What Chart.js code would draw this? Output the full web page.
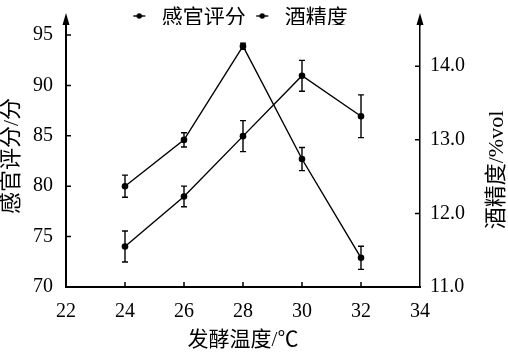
<!DOCTYPE html>
<html><head><meta charset="utf-8">
<script src="https://cdn.jsdelivr.net/npm/chart.js@4"></script>
<style>html,body{margin:0;padding:0;background:#fff}canvas{display:block}</style>
</head><body>
<canvas id="c" width="508" height="357"></canvas>
<script>
const temperatures = [24, 26, 28, 30, 32];
const sensoryScore = [80.0, 84.6, 93.9, 82.7, 72.9];
const sensoryError = [1.1, 0.7, 0.3, 1.15, 1.15];
const alcoholContent = [11.55, 12.23, 13.05, 13.87, 13.32];
const alcoholError = [0.21, 0.14, 0.21, 0.21, 0.29];
const xTicks = [22, 24, 26, 28, 30, 32, 34];
const leftTicks = [70, 75, 80, 85, 90, 95];
const rightTicks = [11, 12, 13, 14];
const seriesNames = ['感官评分', '酒精度'];
const xTitle = '发酵温度/℃';
const leftTitle = '感官评分/分';
const rightTitle = '酒精度/%vol';

const SERIF = '"Liberation Serif", "Noto Sans CJK SC"';
const CJK = '"Noto Sans CJK SC"';
Chart.defaults.color = '#000';

// legend marker: short line with a dot
const mk = document.createElement('canvas');
mk.width = 24; mk.height = 8;
(function(){
  const m = mk.getContext('2d');
  m.strokeStyle = '#000'; m.lineWidth = 1.4;
  m.beginPath(); m.moveTo(6, 4); m.lineTo(18, 4); m.stroke();
  m.beginPath(); m.arc(12, 4, 2.7, 0, Math.PI * 2); m.fillStyle = '#000'; m.fill();
})();

const errors = [sensoryError, alcoholError];

const customPlugin = {
  id: 'custom',
  beforeLayout(chart) {
    const lg = chart.legend;
    if (lg && !lg._patched) {
      const f = lg.fit;
      lg.fit = function () { f.call(this); this.height = 24; };
      lg._patched = true;
    }
  },
  afterDatasetsDraw(chart) {
    const ctx = chart.ctx;
    ctx.save();
    ctx.strokeStyle = '#000';
    ctx.lineWidth = 1.4;
    chart.data.datasets.forEach((ds, di) => {
      const ys = chart.scales[ds.yAxisID];
      const xs = chart.scales.x;
      ds.data.forEach((p, i) => {
        const e = errors[di][i];
        const x = xs.getPixelForValue(p.x);
        const y1 = ys.getPixelForValue(p.y + e);
        const y2 = ys.getPixelForValue(p.y - e);
        ctx.beginPath();
        ctx.moveTo(x, y1); ctx.lineTo(x, y2);
        ctx.moveTo(x - 3, y1); ctx.lineTo(x + 3, y1);
        ctx.moveTo(x - 3, y2); ctx.lineTo(x + 3, y2);
        ctx.stroke();
      });
    });
    ctx.restore();
  },
  afterDraw(chart) {
    const ctx = chart.ctx;
    const a = chart.chartArea;
    const sx = chart.scales.x, sy = chart.scales.y, sy1 = chart.scales.y1;
    ctx.save();
    ctx.strokeStyle = '#000';
    ctx.fillStyle = '#000';
    // inward tick marks
    ctx.lineWidth = 1.5;
    ctx.beginPath();
    leftTicks.forEach(v => { const y = sy.getPixelForValue(v); if (v !== 70) { ctx.moveTo(a.left, y); ctx.lineTo(a.left + 5, y); } });
    rightTicks.forEach(v => { const y = sy1.getPixelForValue(v); if (v !== 11) { ctx.moveTo(a.right, y); ctx.lineTo(a.right - 5, y); } });
    xTicks.forEach(v => { const x = sx.getPixelForValue(v); if (v !== 22 && v !== 34) { ctx.moveTo(x, a.bottom); ctx.lineTo(x, a.bottom - 5); } });
    ctx.stroke();
    // axis arrows
    [[a.left, 2], [a.right, 1.5]].forEach(([x, w]) => {
      ctx.lineWidth = w;
      ctx.beginPath(); ctx.moveTo(x, a.top + 1); ctx.lineTo(x, a.top - 4); ctx.stroke();
      ctx.beginPath();
      ctx.moveTo(x, a.top - 12);
      ctx.lineTo(x - 3.5, a.top);
      ctx.lineTo(x + 3.5, a.top);
      ctx.closePath(); ctx.fill();
    });
    // right axis title (reads bottom to top)
    ctx.translate(497, 170);
    ctx.rotate(-Math.PI / 2);
    ctx.font = '22px ' + SERIF;
    ctx.textAlign = 'center';
    ctx.textBaseline = 'middle';
    ctx.fillText(rightTitle, 0, 0);
    ctx.restore();
  }
};

new Chart(document.getElementById('c'), {
  type: 'line',
  data: {
    datasets: [
      {
        label: seriesNames[0],
        data: temperatures.map((t, i) => ({ x: t, y: sensoryScore[i] })),
        yAxisID: 'y'
      },
      {
        label: seriesNames[1],
        data: temperatures.map((t, i) => ({ x: t, y: alcoholContent[i] })),
        yAxisID: 'y1'
      }
    ].map(d => Object.assign(d, {
      borderColor: '#000', backgroundColor: '#000', borderWidth: 1.4,
      pointRadius: 3.3, pointHoverRadius: 3.3, pointBorderWidth: 0,
      tension: 0, fill: false
    }))
  },
  options: {
    responsive: false,
    animation: false,
    devicePixelRatio: 1,
    layout: { padding: { top: -2, right: 33, bottom: 0, left: 0 } },
    plugins: {
      legend: {
        display: true,
        position: 'top',
        labels: {
          usePointStyle: true,
          pointStyle: mk,
          pointStyleWidth: 24,
          padding: 4.5,
          color: '#000',
          font: { family: CJK, size: 21 }
        }
      },
      tooltip: { enabled: false }
    },
    scales: {
      x: {
        type: 'linear', min: 22, max: 34,
        afterBuildTicks: s => { s.ticks = xTicks.map(v => ({ value: v })); },
        ticks: { font: { family: SERIF, size: 20 }, color: '#000', padding: 13, maxRotation: 0 },
        grid: { display: false, drawTicks: false },
        border: { display: true, color: '#000', width: 2 },
        title: { display: true, text: xTitle, color: '#000', font: { family: SERIF, size: 21, lineHeight: 1 }, padding: { top: 0, bottom: 6.5 } },
        afterFit: s => { s.height = 70; }
      },
      y: {
        position: 'left', min: 70, max: 96,
        afterBuildTicks: s => { s.ticks = leftTicks.map(v => ({ value: v })); },
        ticks: { font: { family: SERIF, size: 20 }, color: '#000', padding: 13 },
        grid: { display: false, drawTicks: false },
        border: { display: true, color: '#000', width: 2 },
        title: { display: true, text: leftTitle, color: '#000', font: { family: SERIF, size: 22, lineHeight: 1 }, padding: { top: 1, bottom: 0 } },
        afterFit: s => { s.width = 66; }
      },
      y1: {
        position: 'right', min: 11, max: 14.56,
        afterBuildTicks: s => { s.ticks = rightTicks.map(v => ({ value: v })); },
        ticks: { font: { family: SERIF, size: 20 }, color: '#000', padding: 10, callback: v => Number(v).toFixed(1) },
        grid: { display: false, drawTicks: false },
        border: { display: true, color: '#000', width: 1.5 },
        afterFit: s => { s.width = 55; }
      }
    }
  },
  plugins: [customPlugin]
});
</script>
</body></html>
